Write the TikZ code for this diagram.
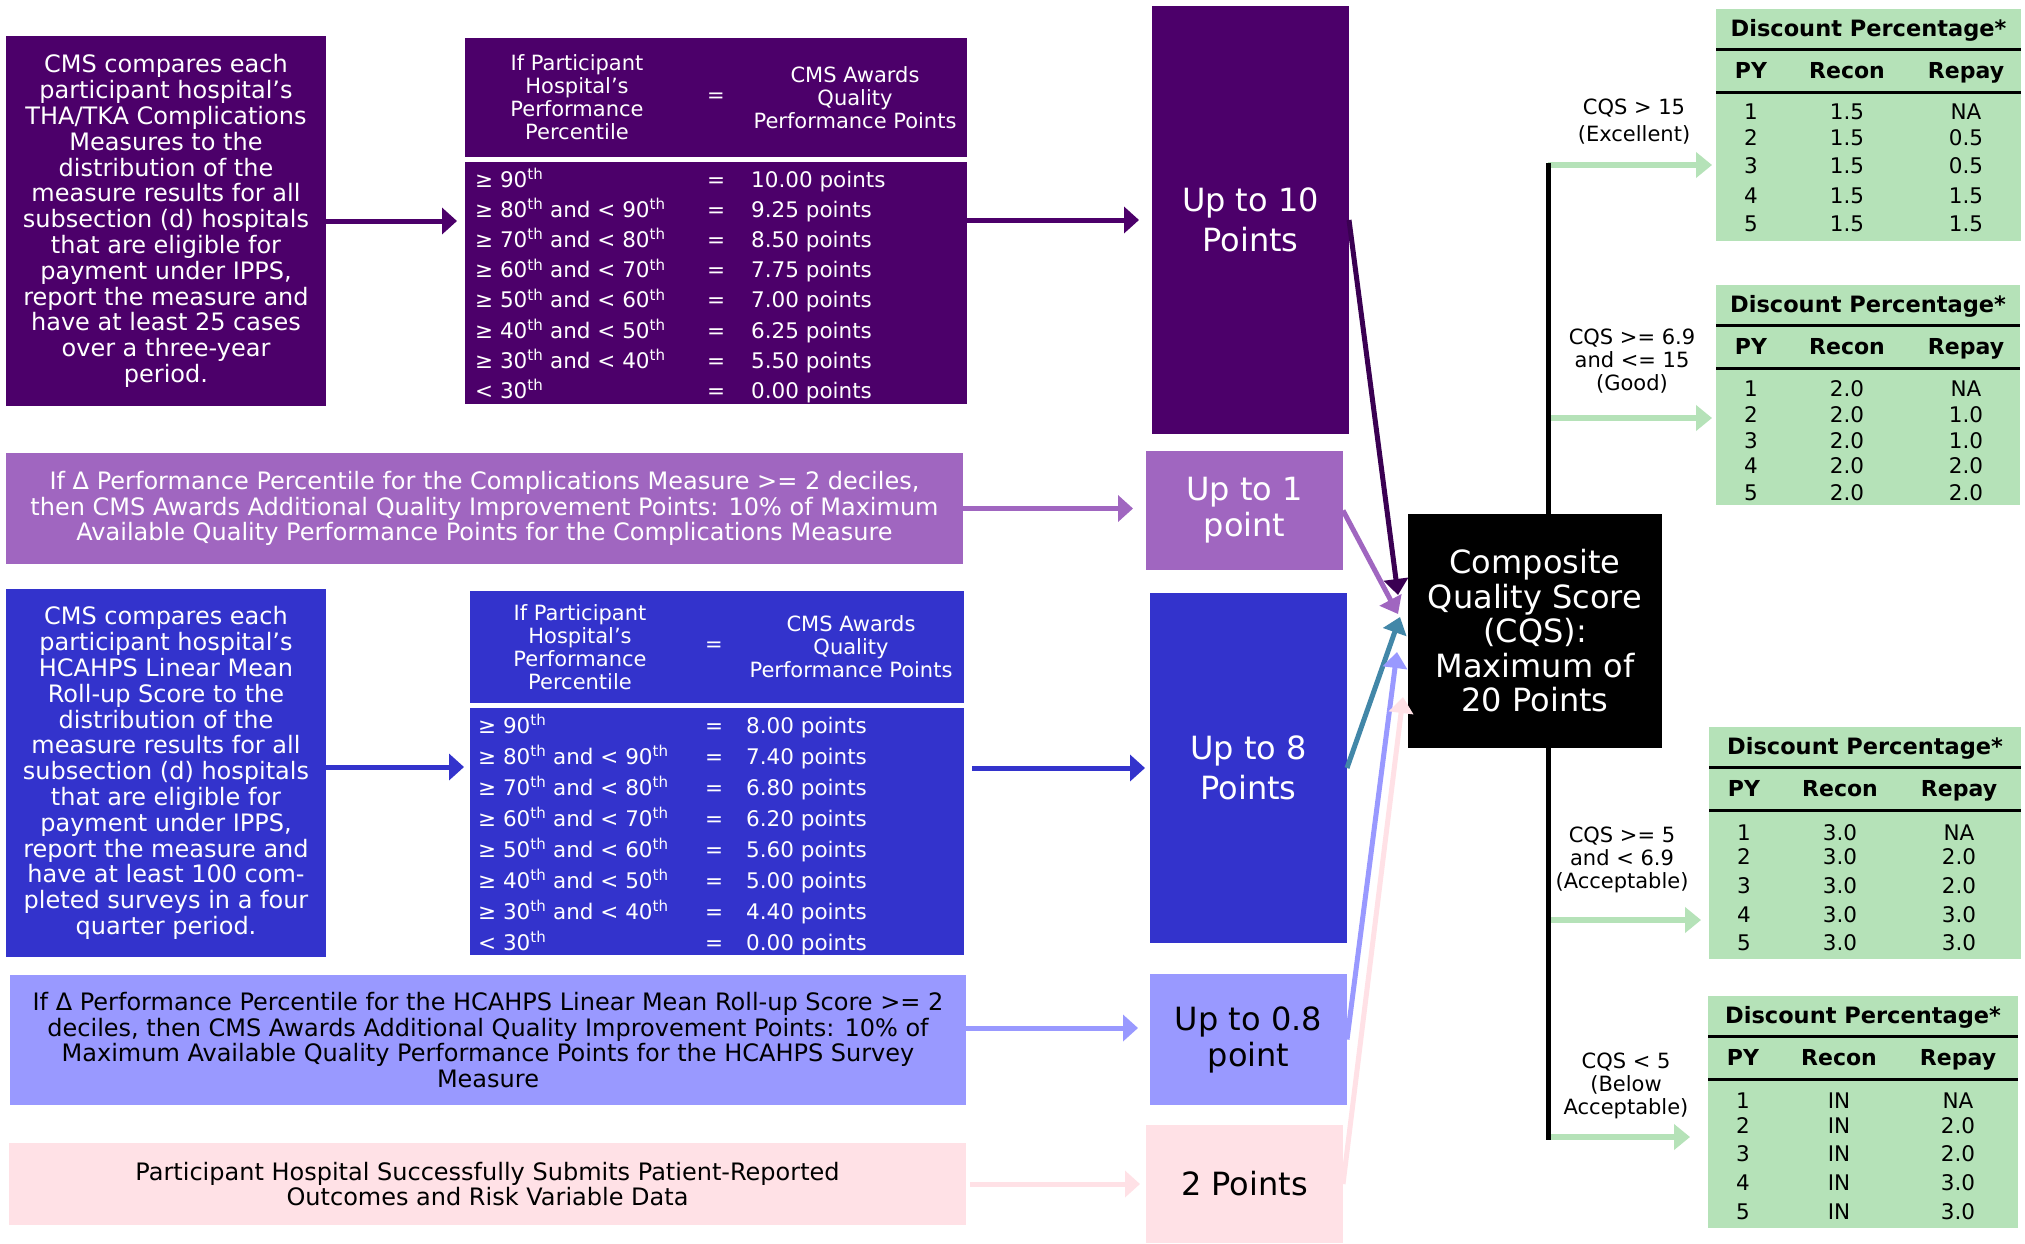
\documentclass[tikz,border=0pt]{standalone}
\usepackage{fontspec}
\setmainfont{DejaVu Sans}
\usetikzlibrary{arrows.meta}
\definecolor{dpur}{HTML}{4C006A}
\definecolor{orch}{HTML}{A066C0}
\definecolor{cblue}{HTML}{3333CC}
\definecolor{lav}{HTML}{9999FF}
\definecolor{cpink}{HTML}{FFE1E6}
\definecolor{grn}{HTML}{B5E2B8}
\definecolor{tealarr}{HTML}{4287A8}
\definecolor{darr}{HTML}{3A0052}
\newcommand{\thsup}{\textsuperscript{th}}
\tikzset{
 blk/.style={anchor=north west, inner sep=0pt, outer sep=0pt, align=center},
 lefttxt/.style={font=\fontsize{24}{25.8}\selectfont},
 hdtxt/.style={inner sep=0pt, align=center, font=\fontsize{21}{23}\selectfont},
 rowtxt/.style={inner sep=0pt, font=\fontsize{21.5}{24}\selectfont},
 bartxt/.style={font=\fontsize{24}{25.6}\selectfont},
 midtxt/.style={font=\fontsize{32}{40}\selectfont},
 midtxtb/.style={font=\fontsize{32}{36}\selectfont},
 harr/.style={line width=5pt, -{Triangle[length=15pt,width=26pt]}},
 carr/.style={line width=5pt, -{Triangle[length=16pt,width=24pt]}},
 garr/.style={line width=6pt, draw=grn, -{Triangle[length=16pt,width=25pt]}},
 gbox/.style={blk, fill=grn},
 gtitle/.style={inner sep=0pt, anchor=base, font=\fontsize{22.5}{24}\selectfont\bfseries},
 ghead/.style={inner sep=0pt, anchor=base, font=\fontsize{22}{24}\selectfont\bfseries},
 gcell/.style={inner sep=0pt, anchor=base, font=\fontsize{21.5}{24}\selectfont},
 glab/.style={inner sep=0pt, align=center, font=\fontsize{21}{23}\selectfont},
 rulel/.style={line width=3pt, draw=black},
}
% name, x, y, w, h, rows
\newcommand{\gtab}[6]{%
 \node[gbox, minimum width=#4pt, minimum height=#5pt] (#1) at (#2,#3) {};
 \node[gtitle] (#1t) at (#2+#4/2,#3+27.5) {Discount Percentage*};
 \coordinate (#1ra) at (#2,#3+40);
 \coordinate (#1rb) at (#2,#3+83);
 \draw[rulel] (#1ra) -- (#1ra -| #1.east);
 \draw[rulel] (#1rb) -- (#1rb -| #1.east);
 \node[ghead] (#1h1) at (#2+35,#3+69) {PY};
 \node[ghead] (#1h2) at (#2+131,#3+69) {Recon};
 \node[ghead] (#1h3) at (#2+250,#3+69) {Repay};
 \foreach \dy/\va/\vb/\vc [count=\k] in {#6} {
   \node[gcell] (#1a\k) at (#2+35,#3+\dy) {\va};
   \node[gcell] (#1b\k) at (#2+131,#3+\dy) {\vb};
   \node[gcell] (#1c\k) at (#2+250,#3+\dy) {\vc};
 }
}
\begin{document}
\begin{tikzpicture}[x=1pt,y=-1pt]
\useasboundingbox (0,0) rectangle (2025,1243);
\fill[white] (0,0) rectangle (2025,1243);

% ---------- left column ----------
\node[blk, fill=dpur, text=white, lefttxt, minimum width=320pt, minimum height=370pt] (A1) at (6,36)
 {CMS compares each\\participant hospital’s\\THA/TKA Complications\\Measures to the\\distribution of the\\measure results for all\\subsection (d) hospitals\\that are eligible for\\payment under IPPS,\\report the measure and\\have at least 25 cases\\over a three-year\\period.};
\node[blk, fill=dpur, minimum width=502pt, minimum height=119pt] (Ahead) at (465,38) {};
\node[blk, fill=dpur, minimum width=502pt, minimum height=242pt] (Abody) at (465,162) {};
\node[hdtxt, text=white] (Ah1) at (577,97.5) {If Participant\\Hospital’s\\Performance\\Percentile};
\node[hdtxt, text=white] (Ah2) at (716,97.5) {=};
\node[hdtxt, text=white] (Ah3) at (855,97.5) {CMS Awards\\Quality\\Performance Points};
\foreach \yy/\pa/\pb [count=\i] in {
 187/{≥ 90\thsup}/10.00,
 217.2/{≥ 80\thsup{} and < 90\thsup}/9.25,
 247.4/{≥ 70\thsup{} and < 80\thsup}/8.50,
 277.6/{≥ 60\thsup{} and < 70\thsup}/7.75,
 307.8/{≥ 50\thsup{} and < 60\thsup}/7.00,
 338/{≥ 40\thsup{} and < 50\thsup}/6.25,
 368.2/{≥ 30\thsup{} and < 40\thsup}/5.50,
 398.4/{< 30\thsup}/0.00}{
 \node[rowtxt, text=white, anchor=base west] (Ara\i) at (475,\yy) {\pa};
 \node[rowtxt, text=white, anchor=base] (Are\i) at (716,\yy) {=};
 \node[rowtxt, text=white, anchor=base west] (Arv\i) at (751,\yy) {\pb{} points};
}

\node[blk, fill=orch, text=white, bartxt, minimum width=957pt, minimum height=111pt] (B) at (6,453)
 {If Δ Performance Percentile for the Complications Measure >= 2 deciles,\\then CMS Awards Additional Quality Improvement Points: 10\% of Maximum\\Available Quality Performance Points for the Complications Measure};

\node[blk, fill=cblue, text=white, lefttxt, minimum width=320pt, minimum height=368pt] (C1) at (6,589)
 {CMS compares each\\participant hospital’s\\HCAHPS Linear Mean\\Roll-up Score to the\\distribution of the\\measure results for all\\subsection (d) hospitals\\that are eligible for\\payment under IPPS,\\report the measure and\\have at least 100 com-\\pleted surveys in a four\\quarter period.};
\node[blk, fill=cblue, minimum width=494pt, minimum height=112pt] (Chead) at (470,591) {};
\node[blk, fill=cblue, minimum width=494pt, minimum height=247pt] (Cbody) at (470,708) {};
\node[hdtxt, text=white] (Ch1) at (580,647) {If Participant\\Hospital’s\\Performance\\Percentile};
\node[hdtxt, text=white] (Ch2) at (714,647) {=};
\node[hdtxt, text=white] (Ch3) at (851,647) {CMS Awards\\Quality\\Performance Points};
\foreach \yy/\pa/\pb [count=\i] in {
 733/{≥ 90\thsup}/8.00,
 764/{≥ 80\thsup{} and < 90\thsup}/7.40,
 795/{≥ 70\thsup{} and < 80\thsup}/6.80,
 826/{≥ 60\thsup{} and < 70\thsup}/6.20,
 857/{≥ 50\thsup{} and < 60\thsup}/5.60,
 888/{≥ 40\thsup{} and < 50\thsup}/5.00,
 919/{≥ 30\thsup{} and < 40\thsup}/4.40,
 950/{< 30\thsup}/0.00}{
 \node[rowtxt, text=white, anchor=base west] (Cra\i) at (478,\yy) {\pa};
 \node[rowtxt, text=white, anchor=base] (Cre\i) at (714,\yy) {=};
 \node[rowtxt, text=white, anchor=base west] (Crv\i) at (746,\yy) {\pb{} points};
}

\node[blk, fill=lav, text=black, bartxt, minimum width=956pt, minimum height=130pt] (D) at (10,975)
 {If Δ Performance Percentile for the HCAHPS Linear Mean Roll-up Score >= 2\\deciles, then CMS Awards Additional Quality Improvement Points: 10\% of\\Maximum Available Quality Performance Points for the HCAHPS Survey\\Measure};

\node[blk, fill=cpink, text=black, bartxt, minimum width=957pt, minimum height=82pt] (E) at (9,1143)
 {Participant Hospital Successfully Submits Patient-Reported\\Outcomes and Risk Variable Data};

% ---------- middle column ----------
\node[blk, fill=dpur, text=white, midtxt, minimum width=197pt, minimum height=428pt] (Up10) at (1152,6) {Up to 10\\Points};
\node[blk, fill=orch, text=white, midtxtb, minimum width=197pt, minimum height=119pt] (Up1) at (1146,451) {Up to 1\\point};
\node[blk, fill=cblue, text=white, midtxt, minimum width=197pt, minimum height=350pt] (Up8) at (1150,593) {Up to 8\\Points};
\node[blk, fill=lav, text=black, midtxtb, minimum width=197pt, minimum height=131pt] (Up08) at (1150,974) {Up to 0.8\\point};
\node[blk, fill=cpink, text=black, midtxt, minimum width=197pt, minimum height=118pt] (P2) at (1146,1125) {2 Points};

% ---------- horizontal arrows ----------
\draw[harr, dpur, shorten >=8pt] (A1.east) -- (A1.east -| Abody.west);
\draw[harr, dpur, shorten >=13pt] (Abody.east |- Up10.west) -- (Up10.west);
\draw[harr, orch, shorten >=13pt] (B.east) -- (B.east -| Up1.west);
\coordinate (c1o) at ([yshift=6pt]C1.east);
\draw[harr, cblue, shorten >=6pt] (c1o) -- (c1o -| Cbody.west);
\draw[harr, cblue, shorten <=8pt, shorten >=5pt] (Cbody.east |- Up8.west) -- (Up8.west);
\coordinate (dO) at ([yshift=12pt]D.east);
\draw[harr, lav, shorten >=12pt] (dO) -- (dO -| Up08.west);
\draw[harr, cpink, shorten <=4pt, shorten >=6pt] (E.east) -- (E.east -| P2.west);

% ---------- CQS ----------
\node[blk, fill=black, text=white, font=\fontsize{32}{34.5}\selectfont, minimum width=254pt, minimum height=234pt] (CQS) at (1408,514)
 {Composite\\Quality Score\\(CQS):\\Maximum of\\20 Points};

\draw[carr, darr] (Up10.east) -- ([xshift=-10pt,yshift=36pt]CQS.west);
\draw[carr, orch] (Up1.east) -- ([xshift=-10pt,yshift=17pt]CQS.west);
\draw[carr, tealarr] (Up8.east) -- ([xshift=-8pt,yshift=14pt]CQS.west);
\draw[carr, lav] (Up08.east) -- ([xshift=-11pt,yshift=-21pt]CQS.west);
\draw[carr, cpink] (P2.east) -- ([xshift=-5pt,yshift=-66pt]CQS.west);

% ---------- green tables ----------
\gtab{T1}{1716}{9}{305}{232}{110/1/1.5/NA, 136/2/1.5/0.5, 164/3/1.5/0.5, 194/4/1.5/1.5, 222/5/1.5/1.5}
\gtab{T2}{1716}{285}{304}{220}{111/1/2.0/NA, 137/2/2.0/1.0, 163/3/2.0/1.0, 188/4/2.0/2.0, 215/5/2.0/2.0}
\gtab{T3}{1709}{727}{312}{232}{113/1/3.0/NA, 137/2/3.0/2.0, 166/3/3.0/2.0, 195/4/3.0/3.0, 223/5/3.0/3.0}
\gtab{T4}{1708}{996}{310}{232}{112/1/IN/NA, 137/2/IN/2.0, 165/3/IN/2.0, 194/4/IN/3.0, 223/5/IN/3.0}

% ---------- branches ----------
\coordinate (vtop) at (1548,165);
\coordinate (g2) at (1548,418);
\coordinate (g3) at (1548,920);
\coordinate (vbot) at (1548,1137);
\draw[garr, shorten >=4pt] (vtop) -- (vtop -| T1.west);
\draw[garr, shorten >=4pt] (g2) -- (g2 -| T2.west);
\draw[garr, shorten >=8pt] (g3) -- (g3 -| T3.west);
\draw[garr, shorten >=18pt] (vbot) -- (vbot -| T4.west);
\draw[line width=5pt] ([yshift=2.5pt]vtop) -- (vtop |- CQS.north);
\draw[line width=5pt] ([yshift=-2.5pt]vbot) -- (vbot |- CQS.south);

\node[glab, font=\fontsize{21}{27}\selectfont] (L1) at (1634,122) {CQS > 15\\(Excellent)};
\node[glab] (L2) at (1632,361) {CQS >= 6.9\\and <= 15\\(Good)};
\node[glab] (L3) at (1622,860) {CQS >= 5\\and < 6.9\\(Acceptable)};
\node[glab] (L4) at (1626,1086) {CQS < 5\\(Below\\Acceptable)};
\end{tikzpicture}
\end{document}
